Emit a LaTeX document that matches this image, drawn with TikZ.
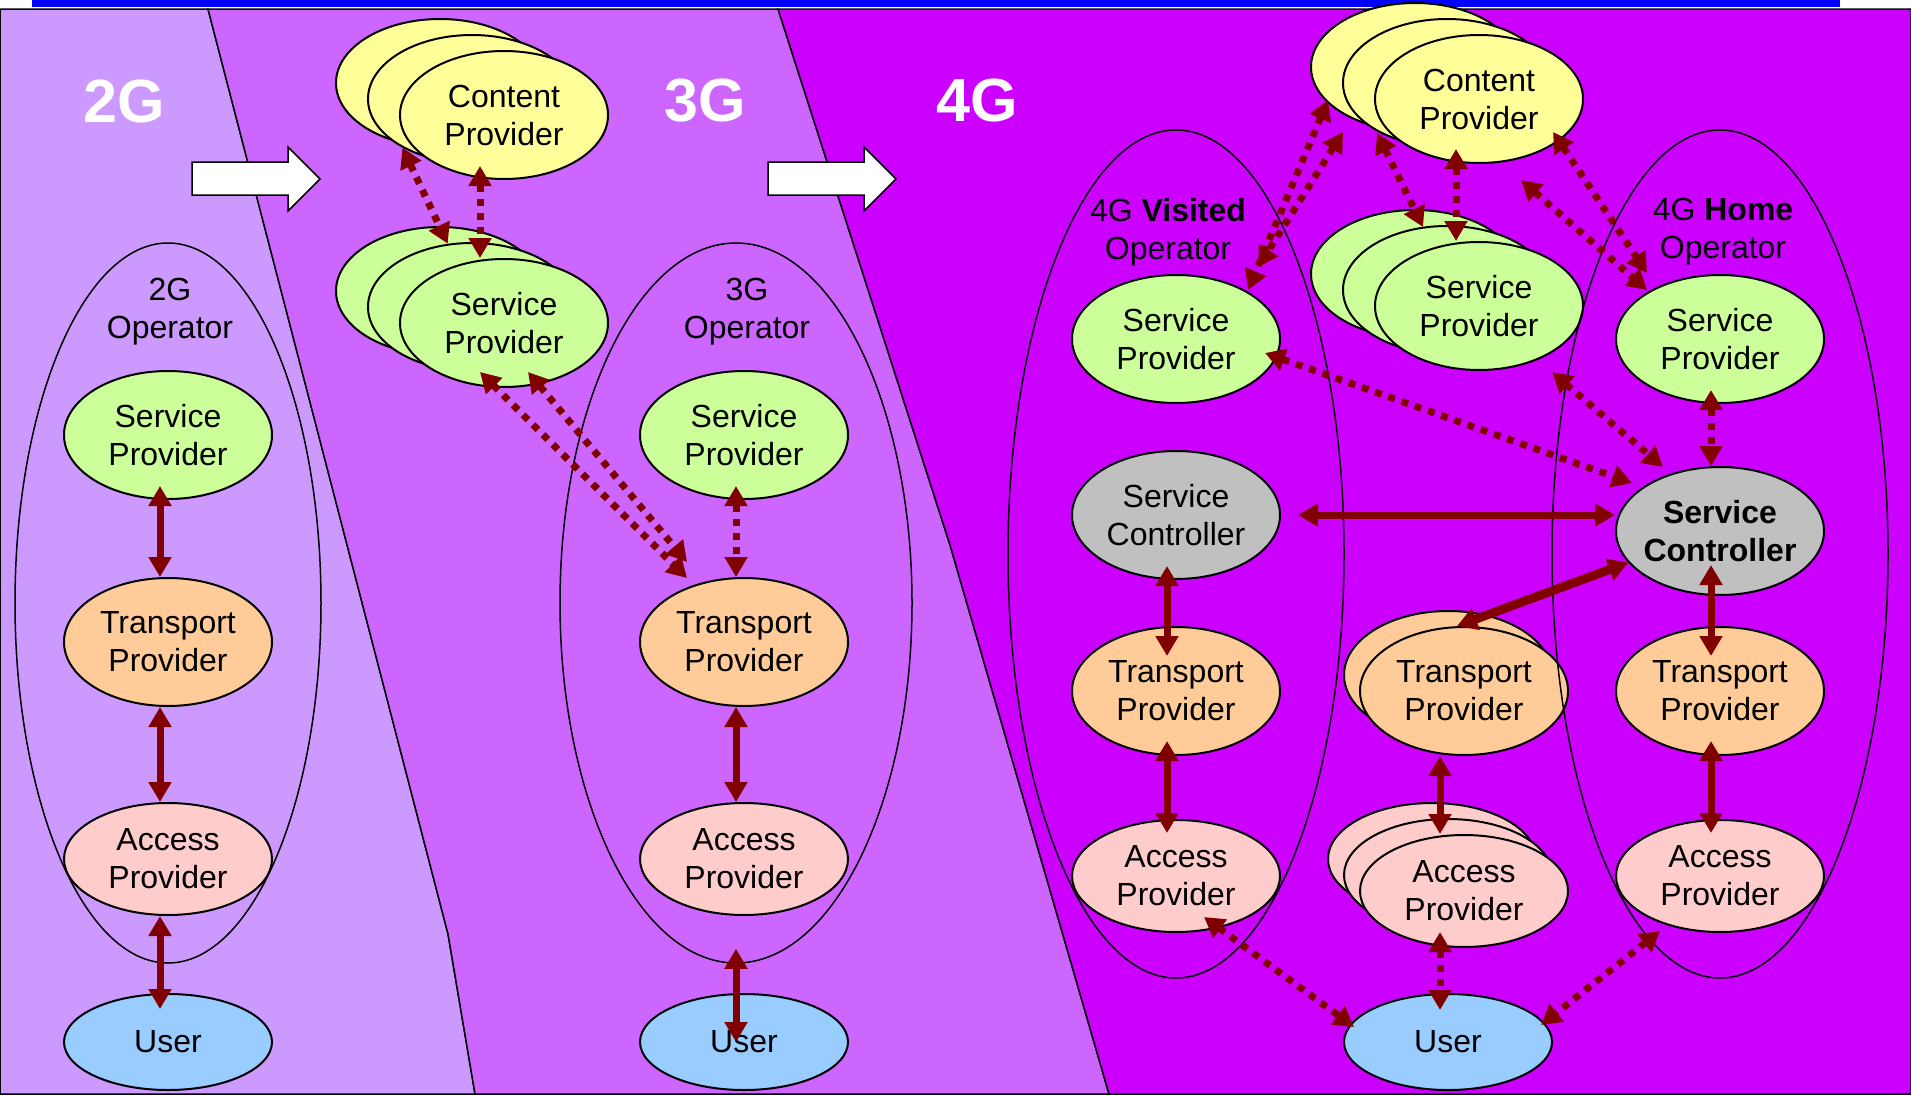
\documentclass[tikz,border=0pt]{standalone}
\usepackage{fontspec}
\setmainfont{Liberation Sans}
\usetikzlibrary{shapes.geometric,arrows.meta,calc}
\definecolor{gen2lilac}{RGB}{204,153,255}
\definecolor{gen3violet}{RGB}{204,102,255}
\definecolor{gen4magenta}{RGB}{204,0,255}
\definecolor{provgreen}{RGB}{204,255,153}
\definecolor{provyellow}{RGB}{255,255,153}
\definecolor{provorange}{RGB}{255,204,153}
\definecolor{provpink}{RGB}{255,204,204}
\definecolor{userblue}{RGB}{153,204,255}
\definecolor{ctrlgray}{RGB}{192,192,192}
\definecolor{linkred}{RGB}{128,0,0}
\definecolor{barblue}{RGB}{0,0,255}

\begin{document}
\begin{tikzpicture}[
  x=1pt, y=-1pt,
  font=\fontsize{32}{38}\selectfont,
  prov/.style={ellipse, draw, line width=2pt, inner sep=0pt, align=center,
               minimum width=208pt, minimum height=128pt},
  svc/.style={prov, fill=provgreen},
  cont/.style={prov, fill=provyellow},
  trans/.style={prov, fill=provorange},
  acc/.style={prov, fill=provpink, minimum height=112pt},
  ctrl/.style={prov, fill=ctrlgray},
  usr/.style={prov, fill=userblue, minimum height=96pt},
  oper/.style={ellipse, draw, line width=1.5pt, inner sep=0pt},
  oplbl/.style={align=center},
  genlbl/.style={text=white, font=\fontsize{61}{61}\selectfont\bfseries},
  link/.style={{Triangle[length=20pt,width=22pt]}-{Triangle[length=20pt,width=22pt]},
               line width=7pt, linkred},
  dlink/.style={link, line width=7pt, dash pattern=on 7pt off 7pt}
]
\useasboundingbox (0,0) rectangle (1911,1095);

%% generation panels
\fill[barblue] (32,0) rectangle (1840,7);
\filldraw[fill=gen2lilac, draw=black, line width=1.5pt]
  (0,9) -- (208,9) -- (448,934) -- (475,1094) -- (0,1094) -- cycle;
\filldraw[fill=gen3violet, draw=black, line width=1.5pt]
  (208,9) -- (778,9) -- (950,545) -- (1109,1094) -- (475,1094) -- (448,934) -- cycle;
\filldraw[fill=gen4magenta, draw=black, line width=1.5pt]
  (778,9) -- (1911,9) -- (1911,1094) -- (1109,1094) -- (950,545) -- cycle;

\foreach \dx in {0,576}
  \filldraw[fill=white, draw=black, line width=1.5pt, xshift=\dx]
    (192,162) -- (288,162) -- (288,147) -- (320,179) -- (288,211)
    -- (288,195) -- (192,195) -- cycle;

\node[genlbl] (g2) at (124,101) {2G};
\node[genlbl] (g3) at (705,101) {3G};
\node[genlbl] (g4) at (977,100) {4G};

%% 2G
\node[svc]   (sp2) at (168,435) {Service\\Provider};
\node[trans] (tp2) at (168,642) {Transport\\Provider};
\node[acc]   (ap2) at (168,859) {Access\\Provider};
\node[usr]   (us2) at (168,1042) {User};

%% 3G
\foreach \n/\x/\y in {c/440/83, b/472/99} \node[cont] (cp3\n) at (\x,\y) {};
\node[cont] (cp3) at (504,115) {Content\\Provider};
\foreach \n/\x/\y in {c/440/291, b/472/307} \node[svc] (sps3\n) at (\x,\y) {};
\node[svc] (sps3) at (504,323) {Service\\Provider};
\node[svc]   (sp3) at (744,435) {Service\\Provider};
\node[trans] (tp3) at (744,642) {Transport\\Provider};
\node[acc]   (ap3) at (744,859) {Access\\Provider};
\node[usr]   (us3) at (744,1042) {User};

%% 4G
\foreach \n/\x/\y in {c/1415/67, b/1447/83} \node[cont] (cp4\n) at (\x,\y) {};
\node[cont] (cp4) at (1479,99) {Content\\Provider};
\foreach \n/\x/\y in {c/1415/274, b/1447/290} \node[svc] (sps4\n) at (\x,\y) {};
\node[svc] (sps4) at (1479,306) {Service\\Provider};
\node[svc]  (spv) at (1176,339) {Service\\Provider};
\node[svc]  (sph) at (1720,339) {Service\\Provider};
\node[ctrl] (scv) at (1176,515) {Service\\Controller};
\node[ctrl, font=\fontsize{32}{38}\selectfont\bfseries, inner xsep=-8pt]
            (sch) at (1720,531) {Service\\Controller};
\node[trans] (tpv) at (1176,691) {Transport\\Provider};
\node[trans] (tps4b) at (1448,675) {};
\node[trans] (tps4) at (1464,691) {Transport\\Provider};
\node[trans] (tph) at (1720,691) {Transport\\Provider};
\node[acc] (apv) at (1176,876) {Access\\Provider};
\foreach \n/\x/\y in {c/1432/859, b/1448/875} \node[acc] (aps4\n) at (\x,\y) {};
\node[acc] (aps4) at (1464,891) {Access\\Provider};
\node[acc] (aph) at (1720,876) {Access\\Provider};
\node[usr] (us4) at (1448,1042) {User};

%% operators
\node[oper, minimum width=306pt, minimum height=720pt] (op2) at (168,603) {};
\node[oper, minimum width=352pt, minimum height=720pt] (op3) at (736,603) {};
\node[oper, minimum width=336pt, minimum height=848pt] (opv) at (1176,554) {};
\node[oper, minimum width=336pt, minimum height=848pt] (oph) at (1720,554) {};
\node[oplbl] (op2lbl) at (170,312) {2G\\Operator};
\node[oplbl] (op3lbl) at (747,312) {3G\\Operator};
\node[oplbl] (opvlbl) at (1168,232) {4G \textbf{Visited}\\Operator};
\node[oplbl] (ophlbl) at (1723,232) {4G \textbf{Home}\\Operator};

%% 2G links
\draw[link, shorten <=-14pt] ([xshift=-8pt]sp2.south) -- ([xshift=-8pt]tp2.north);
\draw[link] ([xshift=-8pt]tp2.south) -- ([xshift=-8pt]ap2.north);
\draw[link, shorten >=-16pt] ([xshift=-8pt]ap2.south) -- ([xshift=-8pt]us2.north);

%% 3G links
\draw[dlink] (cp3b.215) -- (sps3b.111);
\draw[dlink, shorten <=-14pt] ([xshift=-24pt]cp3.south) -- ([xshift=-24pt]sps3.north);
\draw[dlink] ($(sps3)+(-24,49)$) -- ($(tp3)+(-57,-64)$);
\draw[dlink] ($(sps3)+(24,49)$) -- ($(tp3)+(-57,-80)$);
\draw[dlink, shorten <=-14pt] ([xshift=-8pt]sp3.south) -- ([xshift=-8pt]tp3.north);
\draw[link] ([xshift=-8pt]tp3.south) -- ([xshift=-8pt]ap3.north);
\draw[link, shorten <=-15pt] (op3.south) -- ([xshift=-8pt]us3.center);

%% 4G links
\draw[dlink] ($(cp4c)+(-87,33)$) -- ($(spv)+(72,-49)$);
\draw[dlink] ($(cp4b)+(-104,49)$) -- ($(spv)+(82,-72)$);
\draw[dlink] ($(cp4b)+(-70,50)$) -- ($(sps4b)+(-24,-63)$);
\draw[dlink, shorten <=-15pt] ([xshift=-23pt]cp4.south) -- ([xshift=-23pt]sps4.north);
\draw[dlink] ($(cp4)+(74,33)$) -- ($(sph)+(-73,-66)$);
\draw[dlink] ($(sps4)+(42,-126)$) -- ($(sph)+(-73,-49)$);
\draw[dlink] ($(spv)+(89,14)$) -- ($(sch)+(-88,-48)$);
\draw[dlink] ($(sps4)+(73,66)$) -- ($(sch)+(-57,-64)$);
\draw[dlink, shorten <=-14pt] ([xshift=-9pt]sph.south) -- ([xshift=-9pt]sch.north);
\draw[link, shorten <=17pt] (scv.east) -- (scv.east -| sch.west);
\draw[link, line width=9pt] (sch.199) -- ([xshift=-7pt]tps4.north);
\draw[link, shorten <=-14pt, shorten >=-30pt] ([xshift=-9pt]scv.south) -- ([xshift=-9pt]tpv.north);
\draw[link, shorten <=-15pt, shorten >=-14pt] ([xshift=-9pt]tpv.south) -- ([xshift=-9pt]apv.north);
\draw[link] ([xshift=-24pt]tps4.south) -- ([xshift=-24pt]aps4.north);
\draw[link, shorten <=-31pt, shorten >=-30pt] ([xshift=-9pt]sch.south) -- ([xshift=-9pt]tph.north);
\draw[link, shorten <=-15pt, shorten >=-14pt] ([xshift=-9pt]tph.south) -- ([xshift=-9pt]aph.north);
\draw[dlink] ($(apv)+(28,41)$) -- ($(us4)+(-94,-15)$);
\draw[dlink, shorten <=-16pt, shorten >=-17pt] ([xshift=-24pt]aps4.south) -- ([xshift=-8pt]us4.north);
\draw[dlink] ($(aph)+(-60,55)$) -- ($(us4)+(93,-17)$);
\end{tikzpicture}
\end{document}
